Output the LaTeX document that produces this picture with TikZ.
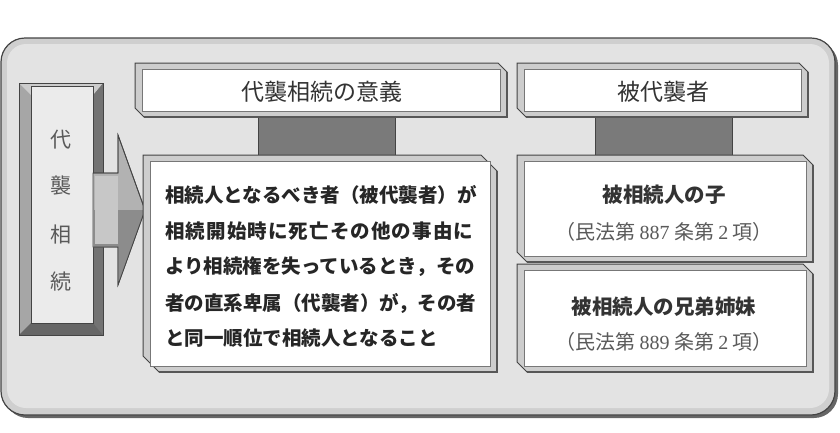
\documentclass[tikz,border=0pt]{standalone}
\usepackage{fontspec}
\newfontfamily\cjk{Noto Sans CJK JP}
\newfontfamily\serd{Liberation Serif}
\definecolor{framefill}{HTML}{E3E3E3}
\definecolor{frameband}{HTML}{CFCFCF}
\definecolor{edge}{HTML}{444444}
\definecolor{bevel}{HTML}{CDCDCD}
\definecolor{innerline}{HTML}{777777}
\definecolor{darkbar}{HTML}{7A7A7A}
\definecolor{txtdark}{HTML}{333333}
\definecolor{txtgray}{HTML}{5A5A5A}
\newcommand\bevbox[5]{%
  \filldraw[fill=bevel,draw=edge,line width=1pt]
    (#1,#2) -- ({#3-#5},#2) -- (#3,{#2+#5}) -- (#3,#4) -- ({#1+#5},#4) -- (#1,{#4-#5}) -- cycle;
  \draw[draw=edge!90,line width=2.2pt] (#3,{#2+#5}) -- (#3,#4) -- ({#1+#5},#4);
  \filldraw[fill=white,draw=innerline,line width=0.8pt] ({#1+7},{#2+6}) rectangle ({#3-7},{#4-6});
}
\begin{document}
\begin{tikzpicture}[x=1pt,y=-1pt,
  txt/.style={inner sep=0pt, font=\cjk},
  head/.style={txt, font=\cjk\fontsize{23}{23}\selectfont, text=txtdark},
  body/.style={txt, anchor=west, font=\cjk\bfseries\fontsize{19.5}{20}\selectfont, text=black!85},
  rbold/.style={txt, font=\cjk\bfseries\fontsize{20.5}{21}\selectfont, text=txtdark},
  rlaw/.style={txt, font=\cjk\fontsize{20}{20}\selectfont, text=txtgray},
  vchar/.style={txt, font=\cjk\fontsize{21}{21}\selectfont, text=txtgray},
  darkbarbox/.style={fill=darkbar, draw=edge, line width=1pt}
]
\useasboundingbox (0,0) rectangle (840,432);
% outer frame
\fill[black!60, rounded corners=24pt] (4,41) rectangle (838,418);
\filldraw[fill=frameband, draw=edge, line width=1.2pt, rounded corners=24pt] (1,38) rectangle (835,415);
\fill[framefill, rounded corners=19pt] (7,44) rectangle (829,408);

% left vertical box
\filldraw[fill=black!45, draw=edge, line width=1pt] (19,83) rectangle (103,335);
\fill[black!35] (19,83) -- (31,95) -- (31,323) -- (19,335) -- cycle;
\fill[black!55] (103,83) -- (93,95) -- (93,323) -- (103,335) -- cycle;
\fill[black!60] (19,335) -- (31,323) -- (93,323) -- (103,335) -- cycle;
\fill[black!20] (19,83) -- (103,83) -- (93,95) -- (31,95) -- cycle;
\filldraw[fill=framefill!70!white, draw=edge, line width=0.8pt] (31,86) rectangle (93,323);
\draw[edge, line width=1pt] (19,83) rectangle (103,335);

% arrow
\filldraw[fill=black!30, draw=edge, line width=0.8pt]
  (93,173) -- (118,173) -- (118,135) -- (145,210) -- (118,285) -- (118,247) -- (93,247) -- cycle;
\fill[black!45] (93,210) -- (145,210) -- (118,285) -- (118,247) -- (93,247) -- cycle;
\fill[black!22] (95,176) -- (118,176) -- (118,244) -- (95,244) -- cycle;
\draw[edge, line width=0.8pt]
  (93,173) -- (118,173) -- (118,135) -- (145,210) -- (118,285) -- (118,247) -- (93,247);

% dark bars
\draw[darkbarbox] (258,112) rectangle (395,158);
\draw[darkbarbox] (595,112) rectangle (732,158);

% boxes
\bevbox{135}{63}{507}{117}{9}
\bevbox{517}{63}{808}{117}{9}
\bevbox{143}{155}{497}{372}{16}
\bevbox{517}{155}{813}{262}{10}
\bevbox{517}{264}{813}{372}{10}

% texts
\node[head] (h1) at (322,92) {代襲相続の意義};
\node[head] (h2) at (663,92) {被代襲者};

\node[vchar] (v1) at (61,140) {代};
\node[vchar] (v2) at (61,186) {襲};
\node[vchar] (v3) at (61,235) {相};
\node[vchar] (v4) at (61,282) {続};

\node[body] (m1) at (165,195) {相続人となるべき者（被代襲者）が};
\node[body] (m2) at (165,231) {\makebox[308pt][s]{相\hfil 続\hfil 開\hfil 始\hfil 時\hfil に\hfil 死\hfil 亡\hfil そ\hfil の\hfil 他\hfil の\hfil 事\hfil 由\hfil に}};
\node[body] (m3) at (165,267) {より相続権を失っているとき，その};
\node[body] (m4) at (165,303) {者の直系卑属（代襲者）が，その者};
\node[body] (m5) at (165,338) {と同一順位で相続人となること};

\node[rbold] (r1) at (664,195) {被相続人の子};
\node[rlaw] (r1l) at (664,232) {（民法第 {\serd 887} 条第 {\serd 2} 項）};
\node[rbold] (r2) at (664,307) {被相続人の兄弟姉妹};
\node[rlaw] (r2l) at (664,342) {（民法第 {\serd 889} 条第 {\serd 2} 項）};
\end{tikzpicture}
\end{document}
